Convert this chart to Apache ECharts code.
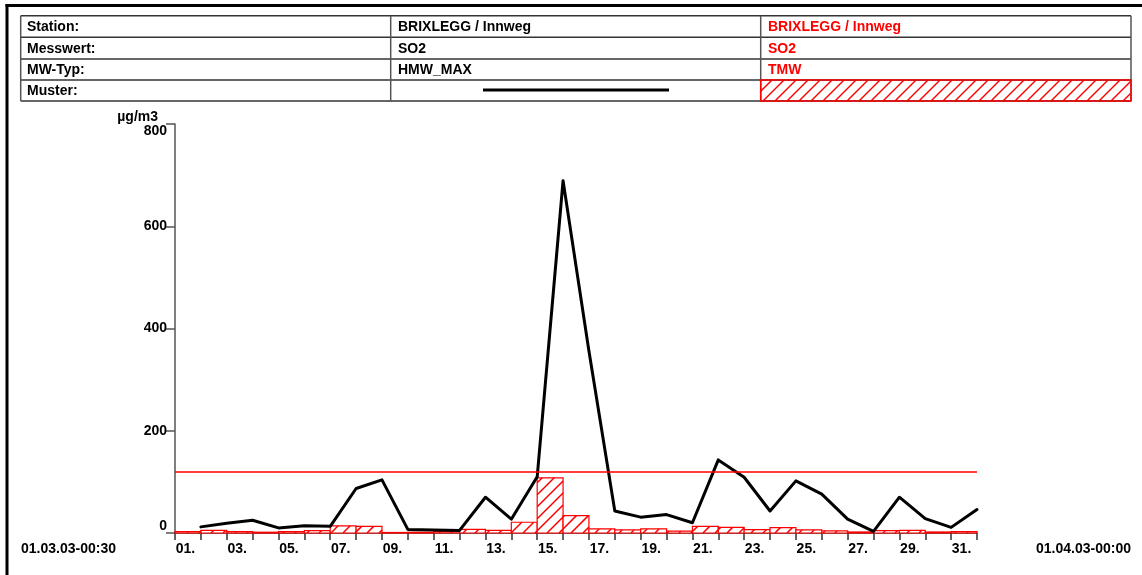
<!DOCTYPE html>
<html>
<head>
<meta charset="utf-8">
<script src="https://cdn.jsdelivr.net/npm/echarts@6/dist/echarts.min.js"></script>
<style>
html,body{margin:0;padding:0;background:#fff;}
#chart{width:1142px;height:575px;}
</style>
</head>
<body>
<div id="chart"></div>
<script>
// ---- data ----
const days = ['01.','02.','03.','04.','05.','06.','07.','08.','09.','10.','11.','12.','13.','14.','15.','16.',
              '17.','18.','19.','20.','21.','22.','23.','24.','25.','26.','27.','28.','29.','30.','31.'];
const hmwMax = [12, 19, 25, 10, 14, 13, 87, 104, 7, 6, 5, 70, 27, 110, 689, 356,
                43, 31, 36, 20, 143, 109, 43, 102, 76, 27, 3, 70, 28, 11, 46];
const tmw = [2.5, 5, 2.5, 1.5, 2.5, 4.5, 14, 13, 1, 1.5, 2.5, 7, 5, 21, 108, 34,
             8, 6, 8, 3.5, 13, 11, 6.5, 10.5, 6, 4, 2, 4.5, 5, 2, 2.5];
const limitValue = 120;
const yTicks = [0, 200, 400, 600, 800];
const unitLabel = 'µg/m3';
const startLabel = '01.03.03-00:30';
const endLabel = '01.04.03-00:00';
const tableLabels = ['Station:', 'Messwert:', 'MW-Typ:', 'Muster:'];
const series1Info = ['BRIXLEGG / Innweg', 'SO2', 'HMW_MAX'];
const series2Info = ['BRIXLEGG / Innweg', 'SO2', 'TMW'];

const RED = '#ff0000';
const FONT = "'Liberation Sans', Arial, sans-serif";

// hatch "/" lines clipped to a rectangle, anchored to a global 12px grid
function hatchLines(x0, y0, x1, y1, step) {
  const out = [];
  const cStart = Math.ceil((x0 + y0) / step) * step;
  for (let c = cStart; c <= x1 + y1; c += step) {
    const lo = Math.max(x0, c - y1);
    const hi = Math.min(x1, c - y0);
    if (hi - lo > 0.3) {
      out.push({ type: 'line', shape: { x1: lo, y1: c - lo, x2: hi, y2: c - hi },
        style: { stroke: RED, lineWidth: 1.5 } });
    }
  }
  return out;
}

const chart = echarts.init(document.getElementById('chart'), null, { renderer: 'canvas' });

// ---- table graphics ----
const rowsY = [15.7, 37.3, 59, 80, 101];
const colsX = [20.7, 390.7, 760.7, 1131];
const g = [];
g.push({ type: 'line', shape: { x1: 5.5, y1: 5.5, x2: 1142, y2: 5.5 }, style: { stroke: '#000', lineWidth: 3 } });
g.push({ type: 'line', shape: { x1: 7, y1: 4, x2: 7, y2: 575 }, style: { stroke: '#000', lineWidth: 3 } });
// legend hatch cell
g.push({ type: 'rect', shape: { x: colsX[2], y: rowsY[3], width: colsX[3] - colsX[2], height: rowsY[4] - rowsY[3] },
  style: { fill: '#fff', stroke: 'none' } });
hatchLines(colsX[2], rowsY[3], colsX[3], rowsY[4], 12).forEach(l => g.push(l));
// table lines
rowsY.forEach(y => g.push({ type: 'line', shape: { x1: colsX[0], y1: y, x2: colsX[3], y2: y }, style: { stroke: '#333', lineWidth: 1.5 } }));
colsX.forEach(x => g.push({ type: 'line', shape: { x1: x, y1: rowsY[0], x2: x, y2: rowsY[4] }, style: { stroke: '#555', lineWidth: 1.5 } }));
g.push({ type: 'rect', shape: { x: colsX[2], y: rowsY[3], width: colsX[3] - colsX[2], height: rowsY[4] - rowsY[3] },
  style: { fill: 'none', stroke: RED, lineWidth: 1.5 } });
// muster line
g.push({ type: 'line', shape: { x1: 483, y1: 90, x2: 669, y2: 90 }, style: { stroke: '#000', lineWidth: 3 } });
// texts
for (let i = 0; i < 4; i++) {
  const cy = (rowsY[i] + rowsY[i + 1]) / 2 + 0.5;
  g.push({ type: 'text', x: 27, y: cy, style: { text: tableLabels[i], font: 'bold 14px ' + FONT, fill: '#000', textVerticalAlign: 'middle' } });
  if (i < 3) {
    g.push({ type: 'text', x: 398, y: cy, style: { text: series1Info[i], font: 'bold 14px ' + FONT, fill: '#000', textVerticalAlign: 'middle' } });
    g.push({ type: 'text', x: 768, y: cy, style: { text: series2Info[i], font: 'bold 14px ' + FONT, fill: RED, textVerticalAlign: 'middle' } });
  }
}
g.push({ type: 'text', x: 158, y: 117, style: { text: unitLabel, font: 'bold 14px ' + FONT, fill: '#000', textAlign: 'right', textVerticalAlign: 'middle' } });
g.push({ type: 'text', x: 21, y: 549.5, style: { text: startLabel, font: 'bold 14px ' + FONT, fill: '#000', textAlign: 'left', textVerticalAlign: 'middle' } });
g.push({ type: 'text', x: 1131, y: 549.5, style: { text: endLabel, font: 'bold 14px ' + FONT, fill: '#000', textAlign: 'right', textVerticalAlign: 'middle' } });

const option = {
  animation: false,
  backgroundColor: '#fff',
  graphic: g,
  grid: { left: 175, right: 165, top: 124, bottom: 42, containLabel: false },
  xAxis: [
    {
      type: 'value', min: 0, max: 31, interval: 1,
      axisLine: { show: true, lineStyle: { color: '#333', width: 1.5 } },
      axisTick: { show: true, length: 7, lineStyle: { color: '#333', width: 1.5 } },
      axisLabel: { show: false },
      splitLine: { show: false }
    },
    {
      type: 'category', data: days, boundaryGap: true, position: 'bottom',
      axisLine: { show: false }, axisTick: { show: false },
      axisLabel: { show: true, interval: 1, margin: 9, padding: [0, 5, 0, 0],
        fontFamily: FONT, fontWeight: 'bold', fontSize: 14, color: '#000' },
      splitLine: { show: false }
    }
  ],
  yAxis: {
    type: 'value', min: yTicks[0], max: yTicks[yTicks.length - 1], interval: yTicks[1] - yTicks[0],
    axisLine: { show: true, lineStyle: { color: '#555', width: 1.5 } },
    axisTick: { show: true, length: 9, lineStyle: { color: '#555', width: 1.5 } },
    axisLabel: { margin: 8, fontFamily: FONT, fontWeight: 'bold', fontSize: 14, color: '#000',
      verticalAlignMinLabel: 'bottom', verticalAlignMaxLabel: 'top' },
    splitLine: { show: false }
  },
  series: [
    {
      type: 'custom', name: 'TMW', xAxisIndex: 0, yAxisIndex: 0, z: 2,
      data: tmw.map((v, i) => [i + 1, v]),
      renderItem: function (params, api) {
        const d = api.value(0);
        const v = api.value(1);
        const p1 = api.coord([d - 1, v]);
        const p2 = api.coord([d, 0]);
        const children = [{
          type: 'rect',
          shape: { x: p1[0], y: p1[1], width: p2[0] - p1[0], height: p2[1] - p1[1] },
          style: { fill: '#fff', stroke: 'none' }
        }];
        hatchLines(p1[0], p1[1], p2[0], p2[1], 12).forEach(l => children.push(l));
        children.push({
          type: 'rect',
          shape: { x: p1[0], y: p1[1], width: p2[0] - p1[0], height: p2[1] - p1[1] },
          style: { fill: 'none', stroke: RED, lineWidth: 1.2 }
        });
        return { type: 'group', children: children };
      }
    },
    {
      type: 'line', name: 'HMW_MAX', xAxisIndex: 0, yAxisIndex: 0, z: 4,
      data: hmwMax.map((v, i) => [i + 1, v]),
      symbol: 'none',
      lineStyle: { color: '#000', width: 3, join: 'round', cap: 'round' },
      markLine: {
        silent: true, symbol: 'none', label: { show: false },
        lineStyle: { color: RED, width: 1.5, type: 'solid' },
        data: [{ yAxis: limitValue }]
      }
    }
  ]
};
chart.setOption(option);
</script>
</body>
</html>
